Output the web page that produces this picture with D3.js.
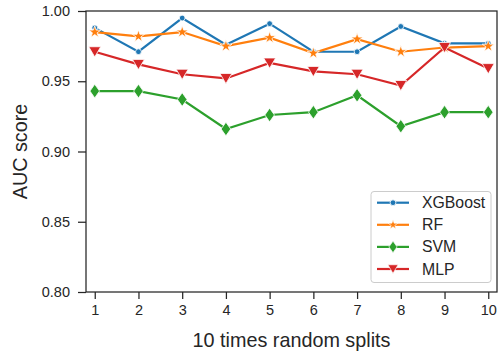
<!DOCTYPE html>
<html><head><meta charset="utf-8">
<script src="https://cdn.jsdelivr.net/npm/d3@7"></script>
<style>body{margin:0;background:#fff}svg{display:block}text{font-family:"Liberation Sans",Arial,sans-serif;fill:#262626}</style>
</head><body><svg id="c" width="499" height="356"></svg>
<script>
const splits = [1,2,3,4,5,6,7,8,9,10];
const xgboost = [0.988,0.971,0.995,0.976,0.991,0.971,0.971,0.989,0.977,0.977];
const rf      = [0.985,0.982,0.985,0.975,0.981,0.970,0.980,0.971,0.974,0.975];
const svm     = [0.943,0.943,0.937,0.916,0.926,0.928,0.940,0.918,0.928,0.928];
const mlp     = [0.971,0.962,0.955,0.952,0.963,0.957,0.955,0.947,0.974,0.959];
const seriesNames = ["XGBoost","RF","SVM","MLP"];
const yTicks = [0.80,0.85,0.90,0.95,1.00];

const series = [
  {name:"XGBoost", values:xgboost, color:"#1f77b4", marker:"circle"},
  {name:"RF", values:rf, color:"#ff7f0e", marker:"star"},
  {name:"SVM", values:svm, color:"#2ca02c", marker:"thin_diamond"},
  {name:"MLP", values:mlp, color:"#d62728", marker:"triangle_down"}
];

const svg = d3.select("#c");
const L=86, R=497, T=11, B=292;
const x = d3.scaleLinear().domain([0.8,10.2]).range([L,R]);
const y = d3.scaleLinear().domain([0.80,1.00]).range([B,T]);

function markerPath(type){
  if(type==="circle") return d3.symbol(d3.symbolCircle, 26)();
  if(type==="star") return d3.symbol(d3.symbolStar, 46)();
  if(type==="thin_diamond") return "M0,-6.8L4.8,0L0,6.8L-4.8,0Z";
  if(type==="triangle_down") return "M0,5.2L-6,-5L6,-5Z";
}

// axes
const gx = svg.append("g").attr("transform",`translate(0,${B})`)
  .call(d3.axisBottom(x).tickValues(splits).tickFormat(d3.format("d")).tickSize(7).tickPadding(6));
const gy = svg.append("g").attr("transform",`translate(${L},0)`)
  .call(d3.axisLeft(y).tickValues(yTicks).tickFormat(d3.format(".2f")).tickSize(8).tickPadding(8));
[gx,gy].forEach(g=>{
  g.select(".domain").remove();
  g.selectAll(".tick line").attr("stroke","#262626").attr("stroke-width",1.25);
  g.selectAll(".tick text").style("font-size","14.5px").attr("fill","#262626");
});

// lines and markers
const line = d3.line().x((d,i)=>x(splits[i])).y(d=>y(d));
series.forEach(s=>{
  svg.append("path").datum(s.values).attr("d",line)
    .attr("fill","none").attr("stroke",s.color).attr("stroke-width",2.2);
  svg.append("g").selectAll("path").data(s.values).join("path")
    .attr("d",markerPath(s.marker))
    .attr("transform",(d,i)=>`translate(${x(splits[i])},${y(d)})`)
    .attr("fill",s.color).attr("stroke","#fff").attr("stroke-width",0.8);
});

// frame
svg.append("rect").attr("x",L).attr("y",T).attr("width",R-L).attr("height",B-T)
  .attr("fill","none").attr("stroke","#262626").attr("stroke-width",1.25);

// labels
svg.append("text").attr("x",(L+R)/2).attr("y",347).attr("text-anchor","middle")
  .style("font-size","19.8px").text("10 times random splits");
svg.append("text").attr("transform",`translate(27,${(T+B)/2}) rotate(-90)`)
  .attr("text-anchor","middle").style("font-size","19.8px").text("AUC score");

// legend
const lg = svg.append("g");
lg.append("rect").attr("x",371).attr("y",191.5).attr("width",120).attr("height",91)
  .attr("rx",3).attr("fill","#fff").attr("fill-opacity",0.8).attr("stroke","#cccccc").attr("stroke-width",1);
series.forEach((s,i)=>{
  const yy = 202.7 + i*22.1;
  lg.append("line").attr("x1",377).attr("x2",409).attr("y1",yy).attr("y2",yy)
    .attr("stroke",s.color).attr("stroke-width",2.2);
  const sc = s.marker==="circle"?1:(s.marker==="star"?0.8:0.85);
  lg.append("path").attr("d",markerPath(s.marker))
    .attr("transform",`translate(393,${yy}) scale(${sc})`)
    .attr("fill",s.color).attr("stroke","#fff").attr("stroke-width",0.8);
  lg.append("text").attr("x",422).attr("y",yy).attr("dy","0.35em")
    .style("font-size","15.8px").text(seriesNames[i]);
});
</script></body></html>
